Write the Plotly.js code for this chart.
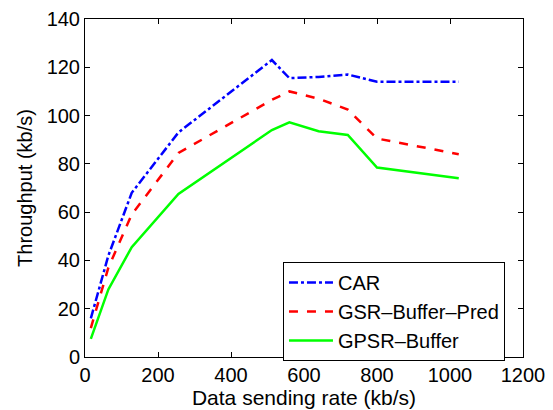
<!DOCTYPE html>
<html>
<head>
<meta charset="utf-8">
<script src="https://cdn.plot.ly/plotly-3.0.1.min.js"></script>
<style>html,body{margin:0;padding:0;background:#fff;}#chart{width:553px;height:410px;}</style>
</head>
<body>
<div id="chart"></div>
<script>
const rates = [16, 64, 128, 256, 512, 560, 640, 720, 800, 1024];
const carValues = [16, 42, 68, 93, 123, 115.5, 116, 117, 114, 114];
const gsrValues = [12, 37, 59, 84.5, 106.5, 110, 107, 102.5, 90.5, 84];
const gpsrValues = [7.5, 28, 45.5, 67.5, 94, 97.2, 93.5, 92, 78.5, 74];
const seriesNames = ["CAR", "GSR\u2013Buffer\u2013Pred", "GPSR\u2013Buffer"];
const xTicks = [0, 200, 400, 600, 800, 1000, 1200];
const yTicks = [0, 20, 40, 60, 80, 100, 120, 140];

const font = {family: "Liberation Sans, Arial, sans-serif", size: 20, color: "#000"};
const titleFontX = {family: "Liberation Sans, Arial, sans-serif", size: 21, color: "#000"};

const traces = [
  {x: rates, y: carValues, name: seriesNames[0], mode: "lines", line: {color: "#0000ff", width: 2.5, dash: "dashdot"}},
  {x: rates, y: gsrValues, name: seriesNames[1], mode: "lines", line: {color: "#ff0000", width: 2.5, dash: "dash"}},
  {x: rates, y: gpsrValues, name: seriesNames[2], mode: "lines", line: {color: "#00ff00", width: 2.5}}
];

const axisCommon = {
  showline: true, linecolor: "#000", linewidth: 1, mirror: "ticks",
  ticks: "inside", ticklen: 5, tickcolor: "#000", showgrid: false, zeroline: false,
  tickfont: font
};

const layout = {
  width: 553, height: 410,
  margin: {l: 85, r: 30, t: 19, b: 53},
  paper_bgcolor: "#fff", plot_bgcolor: "#fff",
  font: font,
  showlegend: true,
  legend: {x: 0.452, y: -0.012, xanchor: "left", yanchor: "bottom", bordercolor: "#000", borderwidth: 1, bgcolor: "#fff", font: font, itemwidth: 44, tracegroupgap: 0},
  xaxis: Object.assign({}, axisCommon, {range: [0, 1200], tickvals: xTicks, ticktext: xTicks.map(String), title: {text: "Data sending rate (kb/s)", font: titleFontX, standoff: 5}}),
  yaxis: Object.assign({}, axisCommon, {range: [0, 140], tickvals: yTicks, ticktext: yTicks.map(String), title: {text: "Throughput (kb/s)", font: font, standoff: 8}})
};

Plotly.newPlot("chart", traces, layout, {displayModeBar: false, staticPlot: true});
</script>
</body>
</html>
